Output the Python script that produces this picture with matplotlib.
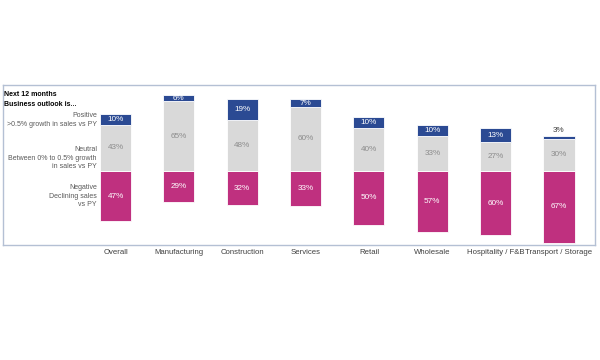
import matplotlib
matplotlib.use("Agg")
import matplotlib.pyplot as plt
import numpy as np

plt.rcParams['font.family'] = ['Liberation Sans', 'DejaVu Sans']

categories = ["Overall", "Manufacturing", "Construction", "Services", "Retail",
              "Wholesale", "Hospitality / F&B", "Transport / Storage"]
positive = [10, 6, 19, 7, 10, 10, 13, 3]
neutral = [43, 65, 48, 60, 40, 33, 27, 30]
negative = [47, 29, 32, 33, 50, 57, 60, 67]

c_pos = '#2b4a93'
c_neu = '#d9d9d9'
c_neg = '#bf307f'

W, H = 600, 360
fig = plt.figure(figsize=(6, 3.6), dpi=100)
ax_l, ax_r, ax_t, ax_b = 3, 595, 85, 245
ax = fig.add_axes([ax_l / W, 1 - ax_b / H, (ax_r - ax_l) / W, (ax_b - ax_t) / H])

pxu = 1.07  # px per percent
base_px = 171
ax.set_ylim(-(ax_b - base_px) / pxu, (base_px - ax_t) / pxu)
sp = 63.36
c0 = 115.5
ax.set_xlim((ax_l - c0) / sp, (ax_r - c0) / sp)

def py(p):
    return (base_px - p) / pxu

x = np.arange(len(categories))
w = 0.49
ax.bar(x, [-v for v in negative], width=w, color=c_neg, edgecolor='white', linewidth=0.6)
ax.bar(x, neutral, width=w, color=c_neu, edgecolor='white', linewidth=0.6)
ax.bar(x, positive, bottom=neutral, width=w, color=c_pos, edgecolor='white', linewidth=0.6)

fs = 5.9
for i in range(len(categories)):
    ax.text(x[i], -negative[i] / 2, f"{negative[i]}%", ha='center', va='center',
            color='white', fontsize=fs)
    ax.text(x[i], neutral[i] / 2, f"{neutral[i]}%", ha='center', va='center',
            color='#8c8c8c', fontsize=fs)
    if positive[i] >= 5:
        ax.text(x[i], neutral[i] + positive[i] / 2, f"{positive[i]}%", ha='center',
                va='center', color='white', fontsize=fs)
    else:
        ax.text(x[i], neutral[i] + positive[i] + 1.5, f"{positive[i]}%", ha='center',
                va='bottom', color='#404040', fontsize=fs)

ax.set_xticks(x)
ax.set_xticklabels(categories, fontsize=5.6, color='#404040')
ax.tick_params(axis='x', length=0, pad=3)
ax.set_yticks([])
for s in ax.spines.values():
    s.set_color('#b4c0d4')
    s.set_linewidth(1.0)

# left-side annotations
lx = (97 - c0) / sp
ax.text((4 - c0) / sp, py(91.5), "Next 12 months\nBusiness outlook is...", ha='left', va='top',
        fontsize=5.0, fontweight='bold', color='black', linespacing=1.4)
lfs = 5.0
ax.text(lx, py(120), "Positive\n>0.5% growth in sales vs PY", ha='right', va='center',
        fontsize=lfs, color='#595959', linespacing=1.35)
ax.text(lx, py(158), "Neutral\nBetween 0% to 0.5% growth\nin sales vs PY", ha='right', va='center',
        fontsize=lfs, color='#595959', linespacing=1.35)
ax.text(lx, py(196), "Negative\nDeclining sales\nvs PY", ha='right', va='center',
        fontsize=lfs, color='#595959', linespacing=1.35)

fig.savefig("out.png", dpi=100)
